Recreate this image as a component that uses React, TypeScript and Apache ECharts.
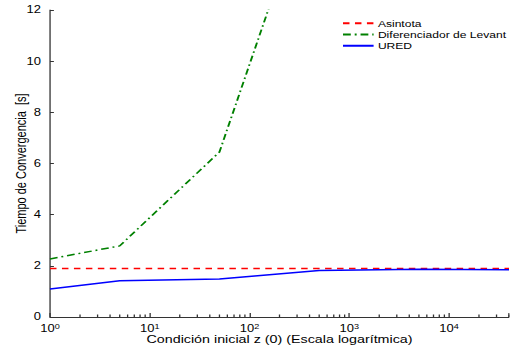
import React, { useEffect, useRef } from "react";
import * as echarts from "echarts";

const seriesNames = ["Asintota", "Diferenciador de Levant", "URED"];
const asintotaX = [1, 40000];
const asintotaY = [1.9, 1.9];
const levantX = [1, 5, 50, 500];
const levantY = [2.27, 2.78, 6.45, 17.8];
const uredX = [1, 5, 50, 500, 5000, 40000];
const uredY = [1.09, 1.42, 1.49, 1.82, 1.87, 1.85];
const minorTicks = [2, 3, 4, 5, 6, 7, 8, 9, 20, 30, 40, 50, 60, 70, 80, 90, 200, 300, 400, 500, 600, 700, 800, 900, 2000, 3000, 4000, 5000, 6000, 7000, 8000, 9000, 20000, 30000, 40000];
const yTicks = [0, 2, 4, 6, 8, 10, 12];

const FONT = "Liberation Sans, Arial, sans-serif";
const SX = 1.3;
const W = 510 / SX;

export default function App() {
  const ref = useRef<HTMLDivElement>(null);
  useEffect(() => {
    const chart = echarts.init(ref.current!, null, { renderer: "svg", width: W, height: 351 });
    const pair = (xs: number[], ys: number[]) => xs.map((x, i) => [x, ys[i]]);
    chart.setOption({
      animation: false,
      textStyle: { fontFamily: FONT },
      grid: { left: 50 / SX, right: 1 / SX, top: 10, bottom: 34, containLabel: false, outerBoundsMode: "none" },
      legend: {
        orient: "vertical",
        left: 341.7 / SX,
        top: 17.8,
        padding: 0,
        itemWidth: 30.6 / SX,
        itemHeight: 8,
        itemGap: 0.2,
        itemStyle: { opacity: 0 },
        textStyle: { fontFamily: FONT, fontSize: 9.3, lineHeight: 11, color: "#000", padding: [0, 0, 0, -1.7] },
        data: seriesNames,
      },
      xAxis: {
        type: "log",
        logBase: 10,
        min: 1,
        max: 40000,
        name: "Condición inicial z (0) (Escala logarítmica)",
        nameLocation: "middle",
        nameGap: 17,
        nameMoveOverlap: false,
        nameTextStyle: { fontFamily: FONT, fontSize: 11, color: "#000" },
        axisLine: { lineStyle: { color: "#333", width: 1 } },
        axisTick: { inside: true, length: 4, lineStyle: { color: "#333" } },
        splitLine: { show: false },
        axisLabel: {
          margin: 6,
          color: "#000",
          fontFamily: FONT,
          fontSize: 10,
          formatter: (v: number) => {
            const k = Math.log10(v);
            if (Math.abs(k - Math.round(k)) > 1e-6) return "";
            return "10{sup|" + Math.round(k) + "}";
          },
          rich: {
            sup: { fontSize: 7, verticalAlign: "top", padding: [0, 0, 5, 0], fontFamily: FONT, color: "#000" },
          },
        },
      },
      yAxis: {
        type: "value",
        min: 0,
        max: 12,
        interval: 2,
        name: "Tiempo de Convergencia  [s]",
        nameLocation: "middle",
        nameGap: 17,
        nameMoveOverlap: false,
        nameRotate: 90,
        nameTextStyle: { fontFamily: FONT, fontSize: 11, color: "#000" },
        axisLine: { show: true, lineStyle: { color: "#333", width: 1 } },
        axisTick: { show: true, inside: true, length: 3, lineStyle: { color: "#333" } },
        splitLine: { show: false },
        axisLabel: {
          margin: 7,
          color: "#000",
          fontFamily: FONT,
          fontSize: 10,
          formatter: (v: number) => (yTicks.includes(v) ? String(v) : ""),
        },
      },
      series: [
        {
          name: seriesNames[0],
          type: "line",
          symbol: "none",
          data: pair(asintotaX, asintotaY),
          lineStyle: { color: "#ff0000", width: 1.5, type: [5, 4.2] },
          itemStyle: { color: "#ff0000" },
        },
        {
          name: seriesNames[1],
          type: "line",
          symbol: "none",
          clip: true,
          data: pair(levantX, levantY),
          lineStyle: { color: "#008000", width: 1.5, type: [6, 3, 1.5, 3] },
          itemStyle: { color: "#008000" },
        },
        {
          name: seriesNames[2],
          type: "line",
          symbol: "none",
          data: pair(uredX, uredY),
          lineStyle: { color: "#0000ff", width: 1.5 },
          itemStyle: { color: "#0000ff" },
        },
        {
          type: "custom",
          silent: true,
          data: minorTicks.map((v) => [v, 0]),
          renderItem: (params: any, api: any) => {
            const p = api.coord([api.value(0), 0]);
            return {
              type: "line",
              shape: { x1: p[0], y1: p[1], x2: p[0], y2: p[1] - 2.5 },
              style: { stroke: "#333", lineWidth: 1 },
            };
          },
        },
      ],
    });
    return () => chart.dispose();
  }, []);
  return (
    <div
      ref={ref}
      style={{
        width: W,
        height: 351,
        position: "absolute",
        left: 0,
        top: 0,
        transform: `scaleX(${SX})`,
        transformOrigin: "0 0",
      }}
    />
  );
}
